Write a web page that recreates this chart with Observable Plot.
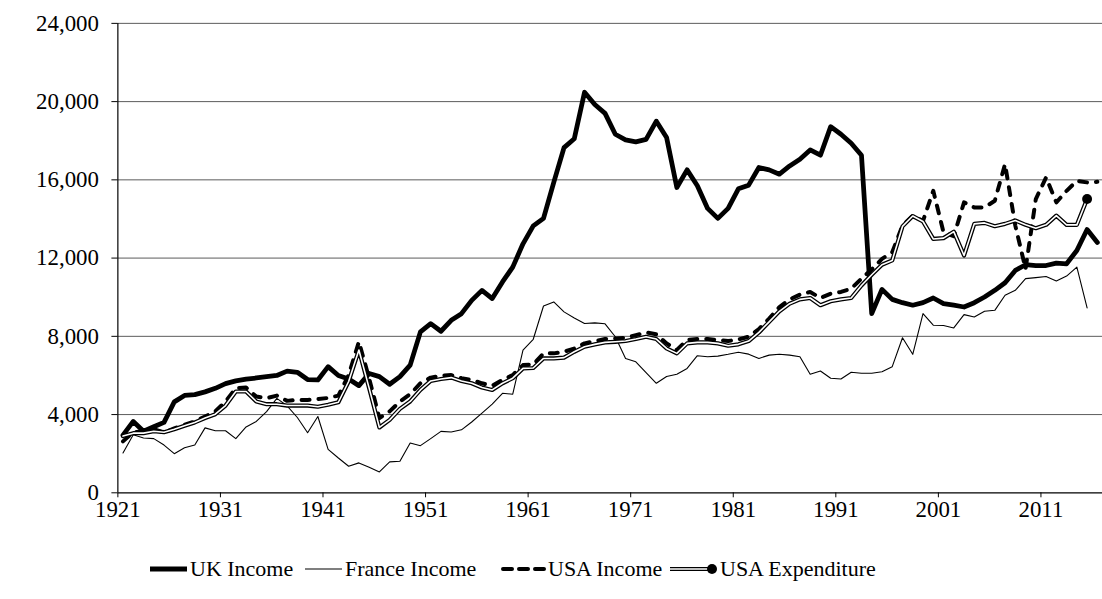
<!DOCTYPE html>
<html><head><meta charset="utf-8">
<script src="https://cdn.jsdelivr.net/npm/d3@7"></script>
<script src="https://cdn.jsdelivr.net/npm/@observablehq/plot@0.6"></script>
<style>
body{margin:0;background:#fff;overflow:hidden;font-family:"Liberation Serif","Times New Roman",serif;}
#wrap{width:1102px;height:599px;overflow:hidden;position:relative;}
#legend{position:absolute;left:0;top:555px;width:1102px;height:28px;font-size:22px;color:#000;white-space:nowrap;line-height:28px;}
.item{position:absolute;top:0;display:flex;align-items:center;height:28px}
.item svg{margin-right:2px}
</style></head><body>
<div id="wrap"><div id="chart"></div><div id="legend"></div></div>
<script>
const startYear = 1921;
const xTickLabels = [1921, 1931, 1941, 1951, 1961, 1971, 1981, 1991, 2001, 2011];
const yTickLabels = [0, 4000, 8000, 12000, 16000, 20000, 24000];
const seriesNames = ["UK Income", "France Income", "USA Income", "USA Expenditure"];

// 1921 .. 2016
const ukIncome = [
 2950,3650,3150,3380,3600,4650,4980,5020,5160,5340,
 5580,5720,5810,5870,5940,6000,6220,6160,5790,5770,
 6450,6000,5820,5480,6100,5940,5550,5940,6530,8230,
 8650,8260,8820,9160,9840,10350,9930,10780,11540,12730,
 13650,14030,15870,17650,18100,20480,19850,19400,18330,18040,
 17940,18070,19000,18160,15610,16510,15700,14540,14030,14540,
 15540,15730,16630,16510,16290,16710,17050,17530,17260,18720,
 18330,17870,17260,9160,10400,9890,9720,9590,9720,9960,
 9670,9590,9500,9720,10010,10350,10740,11370,11660,11620,
 11620,11740,11710,12390,13460,12800];
// 1921 .. 2015
const franceIncome = [
 2040,2970,2800,2770,2440,2000,2300,2440,3320,3170,
 3170,2770,3370,3650,4150,4830,4450,3850,3070,3900,
 2220,1780,1360,1530,1310,1070,1580,1610,2550,2410,
 2770,3140,3110,3220,3620,4070,4530,5090,5040,7300,
 7850,9550,9760,9250,8940,8660,8690,8640,7980,6870,
 6700,6150,5600,5950,6060,6360,7010,6960,6990,7080,
 7190,7090,6870,7040,7080,7040,6960,6060,6230,5860,
 5820,6160,6110,6110,6190,6450,7930,7080,9160,8570,
 8550,8430,9110,8990,9280,9330,10100,10350,10950,11000,
 11060,10830,11080,11540,9450];
// 1921 .. 2016
const usaIncome = [
 2630,3100,3150,3250,3080,3300,3480,3650,3900,4160,
 4670,5350,5380,4920,4840,4970,4700,4750,4750,4790,
 4850,4970,6020,7720,5850,3820,4160,4670,5040,5600,
 5890,5990,6020,5860,5770,5600,5480,5770,6020,6530,
 6560,7130,7130,7210,7380,7640,7760,7860,7890,7930,
 8060,8200,8100,7640,7300,7810,7860,7860,7810,7760,
 7840,7980,8370,8910,9500,9890,10130,10270,9960,10180,
 10270,10440,10950,11420,11960,12300,13660,14170,13900,15440,
 13320,13120,14850,14590,14590,14930,16800,13660,11450,15020,
 16120,14850,15440,15950,15870,15900];
// 1921 .. 2015
const usaExpenditure = [
 2900,3050,3050,3150,3100,3250,3430,3600,3820,4020,
 4460,5180,5180,4670,4530,4530,4460,4460,4460,4400,
 4500,4630,5690,7300,5350,3340,3730,4290,4670,5260,
 5720,5820,5890,5720,5600,5380,5260,5600,5860,6360,
 6380,6870,6870,6910,7210,7470,7590,7690,7720,7760,
 7860,7980,7860,7380,7130,7640,7690,7690,7640,7520,
 7590,7760,8200,8740,9280,9670,9890,9960,9590,9790,
 9890,9960,10600,11150,11660,11880,13620,14150,13870,12980,
 13020,13350,12130,13750,13800,13630,13750,13920,13700,13530,
 13700,14170,13700,13700,15020];

const toRows = (arr) => arr.map((v, i) => ({year: startYear + i, value: v}));
const uk = toRows(ukIncome), fr = toRows(franceIncome), usI = toRows(usaIncome), usE = toRows(usaExpenditure);
const X = d => d.year + 0.5;

const chart = Plot.plot({
  width: 1108, height: 530,
  marginLeft: 118, marginRight: 0, marginTop: 23, marginBottom: 35,
  style: {fontFamily: "'Liberation Serif','Times New Roman',serif", fontSize: "23px", background: "white", color: "#000"},
  x: {type: "linear", domain: [1921, 2017], label: null},
  y: {domain: [0, 24000], label: null},
  marks: [
    Plot.gridY(yTickLabels.slice(1), {stroke: "#000", strokeOpacity: 0.65, strokeWidth: 1}),
    Plot.axisY(yTickLabels, {tickSize: 6, tickPadding: 13, tickFormat: d3.format(","), fontSize: 23, label: null}),
    Plot.axisX(xTickLabels, {tickSize: 5, tickPadding: 3, tickFormat: d => String(d), fontSize: 23, label: null}),
    Plot.ruleY([0], {stroke: "#000", strokeWidth: 1.2}),
    Plot.ruleX([1921], {y1: 0, y2: 24000, stroke: "#000", strokeWidth: 1.2}),
    Plot.line(uk, {x: X, y: "value", stroke: "#000", strokeWidth: 4.8, strokeLinejoin: "round"}),
    Plot.line(fr, {x: X, y: "value", stroke: "#000", strokeWidth: 1.1, strokeLinejoin: "round"}),
    Plot.line(usI, {x: X, y: "value", stroke: "#000", strokeWidth: 4, strokeDasharray: "8,9", strokeLinecap: "round", strokeLinejoin: "round"}),
    Plot.line(usE, {x: X, y: "value", stroke: "#000", strokeWidth: 4.2, strokeLinejoin: "round"}),
    Plot.line(usE, {x: X, y: "value", stroke: "#fff", strokeWidth: 1.6, strokeLinejoin: "round"}),
    Plot.dot(usE.slice(-1), {x: X, y: "value", r: 5, fill: "#000", stroke: "none"})
  ]
});
document.getElementById("chart").appendChild(chart);

// legend
const swatches = [
  `<svg width="38" height="20"><line x1="0" y1="10" x2="37" y2="10" stroke="#000" stroke-width="4.8"/></svg>`,
  `<svg width="38" height="20"><line x1="0" y1="10" x2="37" y2="10" stroke="#000" stroke-width="1.1"/></svg>`,
  `<svg width="46" height="20"><line x1="3" y1="10" x2="44" y2="10" stroke="#000" stroke-width="4" stroke-dasharray="9,7" stroke-linecap="round"/></svg>`,
  `<svg width="48" height="20"><line x1="0" y1="10" x2="42" y2="10" stroke="#000" stroke-width="4.2"/><line x1="0" y1="10" x2="42" y2="10" stroke="#fff" stroke-width="1.6"/><circle cx="42" cy="10" r="5" fill="#000"/></svg>`
];
const legendLeft = [150, 305, 500, 670];
const lg = document.getElementById("legend");
seriesNames.forEach((name, i) => {
  const it = document.createElement("div");
  it.className = "item";
  it.style.left = legendLeft[i] + "px";
  it.innerHTML = `${swatches[i]}<span>${name}</span>`;
  lg.appendChild(it);
});
</script>
</body></html>
